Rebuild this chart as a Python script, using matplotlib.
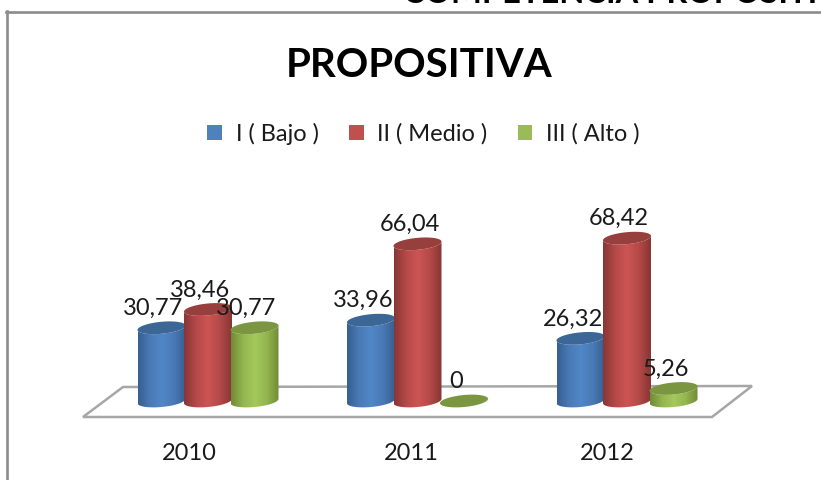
import numpy as np
import matplotlib
matplotlib.use("Agg")
import matplotlib.pyplot as plt
from matplotlib.colors import LinearSegmentedColormap
from matplotlib.patches import Patch, Polygon

plt.rcParams["font.family"] = ["Lato", "DejaVu Sans"]

years = ["2010", "2011", "2012"]
series = ["I ( Bajo )", "II ( Medio )", "III ( Alto )"]
bajo = [30.77, 33.96, 26.32]
medio = [38.46, 66.04, 68.42]
alto = [30.77, 0, 5.26]
title = "PROPOSITIVA"
cut_heading = "COMPETENCIA PROPOSITIVA"

values = [bajo, medio, alto]
side = [
    ["#365F91", "#4A7AB5", "#5187C8", "#4A7AB5", "#365F91"],
    ["#873634", "#B5494A", "#CC5553", "#B5494A", "#873634"],
    ["#6F8B36", "#94B550", "#A5C95C", "#94B550", "#6F8B36"],
]
tops = ["#3B6695", "#963F3C", "#7A9640"]
legend_cols = ["#4F81BD", "#C0504D", "#9BBB59"]

W, H = 821, 480
PX_PER_CAT, PX_PER_VAL = 209.5, 2.38
X0, Y0 = 208, 401

fig = plt.figure(figsize=(W / 100, H / 100), dpi=100, facecolor="white")
ax = fig.add_axes([0, 0, 1, 1])
ax.axis("off")
xlim = (-X0 / PX_PER_CAT, (W - X0) / PX_PER_CAT)
ylim = ((Y0 - H) / PX_PER_VAL, Y0 / PX_PER_VAL)

def dx(px):
    return px / PX_PER_CAT

def dy(px):
    return px / PX_PER_VAL

# floor, expressed as pixel offsets from the first category on the value baseline
floor = [(-125, -16), (-85, 14), (544, 15), (504, -16)]
floor_xy = [(dx(a), dy(b)) for a, b in floor]
ax.add_patch(Polygon(floor_xy, closed=True, fc="white", ec="#A6A6A6", lw=1.8, zorder=1))

A, B, TILT = 24.0, 6.0, 0.09
offset = dx(46.5)

def ellipse(cx, v, t):
    xpx = A * np.cos(t)
    ypx = B * np.sin(t) + TILT * xpx
    return cx + dx(xpx), v + dy(ypx)

z = 2
for gi in range(len(years)):
    for si in range(len(series)):
        v = values[si][gi]
        cx = gi + (si - 1) * offset
        if v > 0:
            tb = np.linspace(0, -np.pi, 60)
            xb, yb = ellipse(cx, 0, tb)
            tt = np.linspace(np.pi, 0, 60)
            xt, yt = ellipse(cx, v, -tt)
            pts = np.column_stack([np.r_[xb, xt], np.r_[yb, yt]])
            poly = Polygon(pts, closed=True, fc="none", ec="none", zorder=z)
            ax.add_patch(poly)
            cmap = LinearSegmentedColormap.from_list("c", side[si])
            im = ax.imshow(
                np.linspace(0, 1, 128)[None, :],
                cmap=cmap,
                aspect="auto",
                interpolation="bilinear",
                extent=(cx - dx(A), cx + dx(A), -dy(12), v + dy(12)),
                zorder=z,
            )
            im.set_clip_path(poly)
        t = np.linspace(0, 2 * np.pi, 90)
        xe, ye = ellipse(cx, v, t)
        ax.fill(xe, ye, color=tops[si], lw=0, zorder=z + 0.5)
        z += 1

year_shift = [-19, -6.5, -20]
for gi in range(len(years)):
    for si in range(len(series)):
        v = values[si][gi]
        cx = gi + (si - 1) * offset
        txt = f"{v:.2f}".replace(".", ",") if v else "0"
        ax.annotate(
            txt, (cx, v), xytext=(-8 * 0.72, 13 * 0.72), textcoords="offset points",
            ha="center", va="baseline", fontsize=17, color="#1a1a1a", zorder=50,
        )
    ax.annotate(
        years[gi], (gi, 0), xytext=(year_shift[gi] * 0.72, -59 * 0.72),
        textcoords="offset points", ha="center", va="baseline",
        fontsize=17, color="#1a1a1a", zorder=50,
    )

ax.set_xlim(xlim)
ax.set_ylim(ylim)

fig.add_artist(plt.Line2D([7 / W, 7 / W], [0, 1 - 11 / H], color="#8C8C8C", lw=1.9))
fig.add_artist(plt.Line2D([6 / W, 1], [1 - 11.5 / H, 1 - 11.5 / H], color="#8C8C8C", lw=1.9))
fig.text(403 / W, 1 - 3 / H, cut_heading, fontsize=23.5, fontweight="bold", color="black", ha="left", va="baseline")
fig.text(419.5 / W, 1 - 77 / H, title, fontsize=29, fontweight="bold", color="black", ha="center", va="baseline")

handles = [Patch(fc=c, ec="none") for c in legend_cols]
fig.legend(
    handles, series, loc="center", bbox_to_anchor=(423.5 / W, 1 - 134 / H), ncol=3, frameon=False,
    fontsize=17, handlelength=0.63, handleheight=0.63, handletextpad=0.58, columnspacing=1.27,
    labelcolor="#1a1a1a", borderpad=0,
)

fig.savefig("out.png", dpi=100, facecolor="white")
